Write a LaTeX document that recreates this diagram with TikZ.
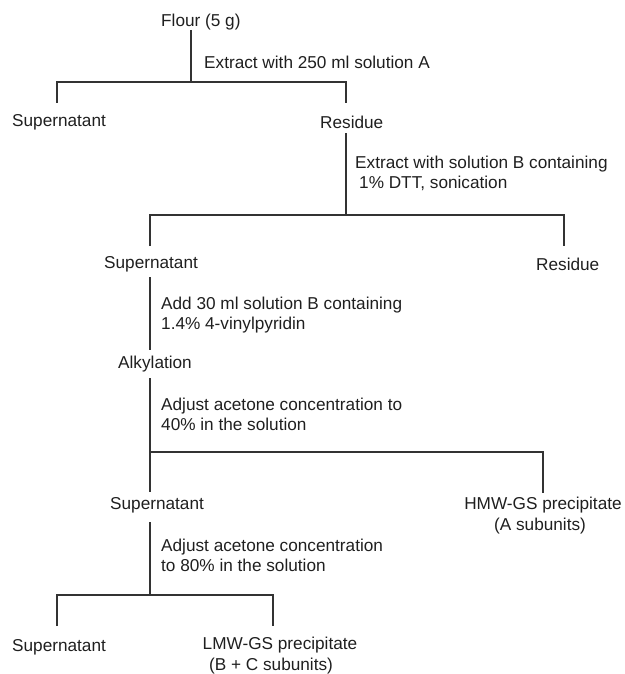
\documentclass[tikz,border=0pt]{standalone}
\usepackage{fontspec}
\setmainfont{Liberation Sans}
\begin{document}
\begin{tikzpicture}[x=1pt,y=-1pt,
  lbl/.style={anchor=west,inner sep=0pt,font=\fontsize{17.2}{20}\selectfont,text=black!88,align=left},
  clbl/.style={anchor=center,inner sep=0pt,font=\fontsize{17.2}{21}\selectfont,text=black!88,align=center},
  conn/.style={line width=1.1pt,draw=black!80}]
\useasboundingbox (0,0) rectangle (624,674);
% text nodes
\node[lbl] (flour) at (161,22) {Flour (5 g)};
\node[lbl] (s1) at (204,62) {Extract with 250 ml solution A};
\node[lbl] (sup1) at (12,122) {Supernatant};
\node[lbl] (res1) at (320,122) {Residue};
\node[lbl] (s2) at (355,173) {Extract with solution B containing\\\hspace*{4pt}1\% DTT, sonication};
\node[lbl] (sup2) at (104,264) {Supernatant};
\node[lbl] (res2) at (536,264) {Residue};
\node[lbl] (s3) at (161,315) {Add 30 ml solution B containing\\1.4\% 4-vinylpyridin};
\node[lbl] (alk) at (118,364) {Alkylation};
\node[lbl] (s4) at (161,414) {Adjust acetone concentration to\\40\% in the solution};
\node[lbl] (sup3) at (110,505) {Supernatant};
\node[clbl] (hmw) at (543,516) {HMW-GS precipitate\\\hspace*{-6pt}(A subunits)};
\node[lbl] (s5) at (161,555) {Adjust acetone concentration\\to 80\% in the solution};
\node[lbl] (sup4) at (12,647) {Supernatant};
\node[clbl] (lmw) at (280,656) {LMW-GS precipitate\\\hspace*{-18pt}(B + C subunits)};
% junction coordinates
\coordinate (f0) at (191,30);
\coordinate (j1) at (191,82);
\coordinate (a1) at (57,103);
\coordinate (b1) at (346,103);
\coordinate (r0) at (346,133);
\coordinate (j2) at (346,215);
\coordinate (a2) at (150,246);
\coordinate (b2) at (564,246);
\coordinate (p0) at (150,277);
\coordinate (p1) at (150,350);
\coordinate (k0) at (150,378);
\coordinate (j3) at (150,452);
\coordinate (a3) at (150,492);
\coordinate (b3) at (543,493);
\coordinate (q0) at (150,522);
\coordinate (j4) at (150,595);
\coordinate (a4) at (57,626);
\coordinate (b4) at (273,626);
% connectors
\draw[conn] (f0) -- (j1);
\draw[conn] (a1) -- (a1 |- j1) -- (b1 |- j1) -- (b1);
\draw[conn] (r0) -- (j2);
\draw[conn] (a2) -- (a2 |- j2) -- (b2 |- j2) -- (b2);
\draw[conn] (p0) -- (p1);
\draw[conn] (k0) -- (a3);
\draw[conn] (j3) -- (b3 |- j3) -- (b3);
\draw[conn] (q0) -- (j4);
\draw[conn] (a4) -- (a4 |- j4) -- (b4 |- j4) -- (b4);
\end{tikzpicture}
\end{document}
